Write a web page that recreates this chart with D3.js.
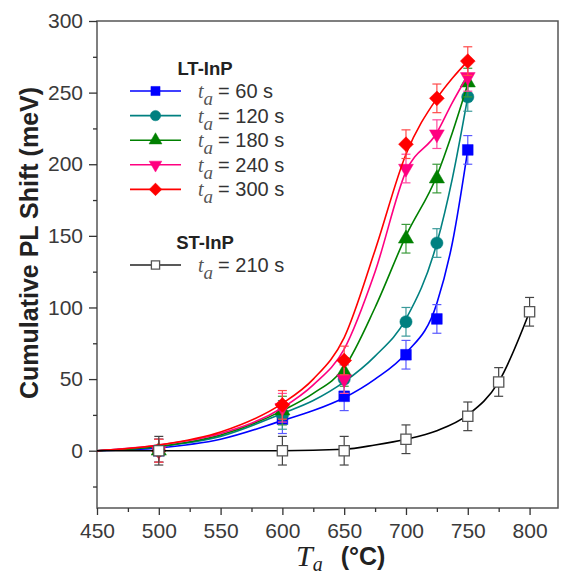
<!DOCTYPE html>
<html>
<head>
<meta charset="utf-8">
<script src="https://cdn.jsdelivr.net/npm/d3@7"></script>
<style>
  html, body { margin: 0; padding: 0; background: #fff; }
  svg { display: block; }
</style>
</head>
<body>
<svg id="chart" width="561" height="574"></svg>
<script>
// Annealing temperatures (°C) of the measured samples
const tempsLT = [500, 600, 650, 700, 725, 750];
const tempsST = [500, 600, 650, 700, 750, 775, 800];

// Measured cumulative PL shift (meV), LT-InP, per anneal time
const shift60  = [0, 22, 38, 67, 92, 210];
const shift120 = [0, 25, 50, 90, 145, 247];
const shift180 = [0, 28, 55, 148, 190, 257];
const shift240 = [0, 30, 50, 197, 221, 261];
const shift300 = [0, 32, 63, 214, 246, 272];
// ST-InP, t_a = 210 s
const shiftST  = [0, 0, 0, 8, 24, 48, 97];

// Error bar half-widths (meV)
const err60  = [8, 10, 10, 10, 10, 10];
const err120 = [8, 10, 10, 10, 10, 10];
const err180 = [8, 10, 10, 10, 10, 10];
const err240 = [8, 10, 10, 10, 10, 10];
const err300 = [8, 10, 10, 10, 10, 10];
const errST  = [10, 10, 10, 10, 10, 10, 10];

// Fitted trend curves (meV) sampled at these temperatures
const fitTempsLT = [450, 500, 550, 600, 625, 650, 675, 700, 725, 737.5, 750];
const fit60  = [0, 2, 8, 21, 28, 37, 50, 68, 103, 145, 210];
const fit120 = [0, 3, 10, 26, 35, 48, 66, 92, 145, 190, 247];
const fit180 = [0, 3, 11, 28, 40, 58, 100, 150, 192, 222, 256];
const fit240 = [0, 4, 12, 30, 46, 71, 125, 195, 222, 243, 262];
const fit300 = [0, 4, 13, 33, 50, 79, 140, 207, 246, 260, 272];
const fitTempsST = [450, 500, 550, 600, 650, 675, 700, 725, 750, 775, 800];
const fitST  = [0, 0, 0, 0, 1, 4, 8, 14, 25, 48, 97];

const xTicks = [450, 500, 550, 600, 650, 700, 750, 800];
const yTicks = [0, 50, 100, 150, 200, 250, 300];
const xMinor = [475, 525, 575, 625, 675, 725, 775];
const yMinor = [-25, 25, 75, 125, 175, 225, 275];

const legendTimes = [60, 120, 180, 240, 300];

const series = [
  { name: "60",  x: tempsLT, y: shift60,  e: err60,  fx: fitTempsLT, fy: fit60,  color: "#0000ff", errColor: "#5a5aff", shape: "square" },
  { name: "120", x: tempsLT, y: shift120, e: err120, fx: fitTempsLT, fy: fit120, color: "#008080", errColor: "#3a9a9a", shape: "circle" },
  { name: "180", x: tempsLT, y: shift180, e: err180, fx: fitTempsLT, fy: fit180, color: "#008000", errColor: "#3a9a3a", shape: "triangle" },
  { name: "240", x: tempsLT, y: shift240, e: err240, fx: fitTempsLT, fy: fit240, color: "#ff0080", errColor: "#ff4aa0", shape: "triangleDown" },
  { name: "300", x: tempsLT, y: shift300, e: err300, fx: fitTempsLT, fy: fit300, color: "#ff0000", errColor: "#ff4a4a", shape: "diamond" }
];
const stSeries = { name: "210", x: tempsST, y: shiftST, e: errST, fx: fitTempsST, fy: fitST, color: "#000000", errColor: "#444", shape: "openSquare" };

const svg = d3.select("#chart");
const plotLeft = 97, plotRight = 558, plotTop = 21, plotBottom = 508;

const x = d3.scaleLinear().domain([450, 823]).range([plotLeft, plotRight]);
const y = d3.scaleLinear().domain([-40, 300]).range([plotBottom, plotTop]);

const axisColor = "#333";
const labelFont = "Arial, 'Liberation Sans', sans-serif";
const italicFont = "'Times New Roman', 'Liberation Serif', serif";

// Frame
svg.append("rect")
  .attr("x", plotLeft).attr("y", plotTop)
  .attr("width", plotRight - plotLeft).attr("height", plotBottom - plotTop)
  .attr("fill", "none").attr("stroke", "#555").attr("stroke-width", 1.5);

// Axes
const xAxis = svg.append("g").attr("transform", `translate(0,${plotBottom})`)
  .call(d3.axisBottom(x).tickValues(xTicks).tickSize(7).tickPadding(8).tickFormat(d3.format("d")));
const xAxisMinor = svg.append("g").attr("transform", `translate(0,${plotBottom})`)
  .call(d3.axisBottom(x).tickValues(xMinor).tickSize(4).tickFormat(""));
const yAxis = svg.append("g").attr("transform", `translate(${plotLeft},0)`)
  .call(d3.axisLeft(y).tickValues(yTicks).tickSize(8).tickPadding(6).tickFormat(d3.format("d")));
const yAxisMinor = svg.append("g").attr("transform", `translate(${plotLeft},0)`)
  .call(d3.axisLeft(y).tickValues(yMinor).tickSize(4).tickFormat(""));

[xAxis, xAxisMinor, yAxis, yAxisMinor].forEach(g => {
  g.select(".domain").remove();
  g.selectAll(".tick line").attr("stroke", axisColor).attr("stroke-width", 1.3);
  g.selectAll(".tick text").attr("fill", "#3a3a3a").style("font-family", labelFont).style("font-size", "21px");
});

// Axis titles
svg.append("text")
  .attr("transform", `translate(38,243) rotate(-90)`)
  .attr("text-anchor", "middle")
  .style("font-family", labelFont).style("font-size", "25px").style("font-weight", "bold")
  .attr("fill", "#222")
  .text("Cumulative PL Shift (meV)");

const xt = svg.append("text")
  .attr("x", 296).attr("y", 566)
  .attr("fill", "#222");
xt.append("tspan").style("font-family", italicFont).style("font-style", "italic").style("font-size", "30px").text("T");
xt.append("tspan").attr("dy", 5).style("font-family", italicFont).style("font-style", "italic").style("font-size", "20px").text("a");
xt.append("tspan").attr("dy", -6).attr("dx", 18).style("font-family", labelFont).style("font-weight", "bold").style("font-size", "25px").text("(°C)");

// Marker shapes
function symbolPath(shape, scale) {
  const s = scale || 1;
  switch (shape) {
    case "square": return { d: d3.symbol(d3.symbolSquare, 115 * s * s)(), rot: 0 };
    case "openSquare": return { d: d3.symbol(d3.symbolSquare, 105 * s * s)(), rot: 0 };
    case "circle": return { d: d3.symbol(d3.symbolCircle, 118 * s * s)(), rot: 0 };
    case "triangle": return { d: d3.symbol(d3.symbolTriangle, 100 * s * s)(), rot: 0 };
    case "triangleDown": return { d: d3.symbol(d3.symbolTriangle, 95 * s * s)(), rot: 180 };
    case "diamond": return { d: d3.symbol(d3.symbolSquare, 110 * s * s)(), rot: 45 };
  }
}

function drawMarker(g, cx, cy, ser, scale) {
  const p = symbolPath(ser.shape, scale);
  const open = ser.shape === "openSquare";
  g.append("path")
    .attr("d", p.d)
    .attr("transform", `translate(${cx},${cy}) rotate(${p.rot})`)
    .attr("fill", open ? "#fff" : ser.color)
    .attr("stroke", open ? "#555" : ser.color)
    .attr("stroke-width", open ? 1.3 : 0.5);
}

const line = d3.line()
  .x(d => x(d[0])).y(d => y(d[1]))
  .curve(d3.curveMonotoneX);

function drawSeries(ser) {
  const g = svg.append("g");
  const pts = ser.x.map((t, i) => [t, ser.y[i], ser.e[i]]);
  // Fitted curve
  g.append("path")
    .datum(ser.fx.map((t, i) => [t, ser.fy[i]]))
    .attr("d", line)
    .attr("fill", "none")
    .attr("stroke", ser.color)
    .attr("stroke-width", 1.6);
  // Error bars
  pts.forEach(p => {
    const cx = x(p[0]);
    const y1 = y(p[1] - p[2]), y2 = y(p[1] + p[2]);
    g.append("line").attr("x1", cx).attr("x2", cx).attr("y1", y1).attr("y2", y2)
      .attr("stroke", ser.errColor).attr("stroke-width", 1.2);
    [y1, y2].forEach(yy => g.append("line")
      .attr("x1", cx - 4.5).attr("x2", cx + 4.5).attr("y1", yy).attr("y2", yy)
      .attr("stroke", ser.errColor).attr("stroke-width", 1.2));
  });
  // Markers
  pts.forEach(p => drawMarker(g, x(p[0]), y(p[1]), ser, 1));
}

series.forEach(drawSeries);
drawSeries(stSeries);

// Legend
const leg = svg.append("g");
function legendLabel(lx, ly, txt) {
  const t = leg.append("text").attr("x", lx).attr("y", ly).attr("fill", "#333");
  t.append("tspan").style("font-family", italicFont).style("font-style", "italic").style("font-size", "20px").attr("fill", "#555").text("t");
  t.append("tspan").attr("dy", 7).style("font-family", italicFont).style("font-style", "italic").style("font-size", "19px").attr("fill", "#555").text("a");
  t.append("tspan").attr("dy", -7).attr("dx", 5).style("font-family", labelFont).style("font-size", "20px").text("= " + txt + " s");
}
function legendHeader(ly, txt) {
  leg.append("text").attr("x", 205).attr("y", ly).attr("text-anchor", "middle")
    .style("font-family", labelFont).style("font-weight", "bold").style("font-size", "18.5px")
    .attr("fill", "#222").text(txt);
}

legendHeader(75, "LT-InP");
const rowStart = 91, rowStep = 24.6;
series.forEach((ser, i) => {
  const ly = rowStart + i * rowStep;
  leg.append("line").attr("x1", 130).attr("x2", 181).attr("y1", ly).attr("y2", ly)
    .attr("stroke", ser.color).attr("stroke-width", 1.6);
  drawMarker(leg, 155.5, ly, ser, 0.85);
  legendLabel(198, ly + 7, String(legendTimes[i]));
});

legendHeader(248.5, "ST-InP");
const stY = 265;
leg.append("line").attr("x1", 130).attr("x2", 181).attr("y1", stY).attr("y2", stY)
  .attr("stroke", "#222").attr("stroke-width", 1.4);
drawMarker(leg, 155.5, stY, stSeries, 0.8);
legendLabel(198, stY + 7, stSeries.name);
</script>
</body>
</html>
